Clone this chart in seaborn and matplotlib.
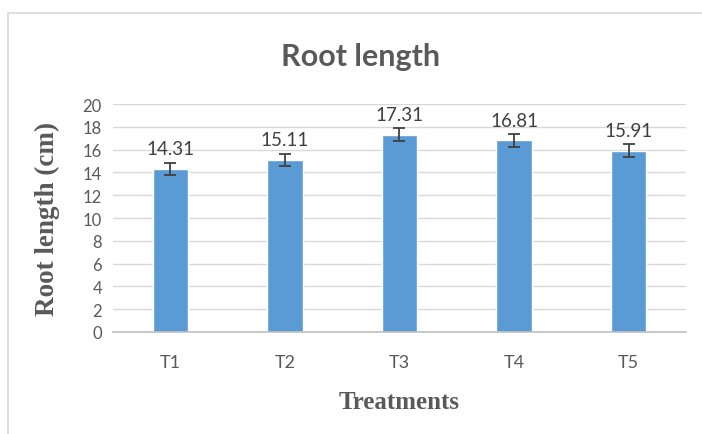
import matplotlib
matplotlib.use("Agg")
import matplotlib.pyplot as plt
import pandas as pd
import seaborn as sns
from matplotlib.patches import Rectangle

treatments = ["T1", "T2", "T3", "T4", "T5"]
root_length = [14.31, 15.11, 17.31, 16.81, 15.91]
errors = [0.55, 0.55, 0.55, 0.55, 0.55]

df = pd.DataFrame({"treatment": treatments, "root_length": root_length})

sns.set_style("white")
plt.rcParams["font.family"] = ["Lato", "DejaVu Sans"]

grey = "#595959"
fig = plt.figure(figsize=(7.02, 4.35), dpi=100)
fig.patches.append(Rectangle((8 / 702, -0.1), 1.1, 1 - 14 / 435 + 0.1,
                             transform=fig.transFigure, fill=False,
                             edgecolor="#D9D9D9", linewidth=1.2))
ax = fig.add_axes([0.161, 0.2345, 0.816, 0.524])

sns.barplot(data=df, x="treatment", y="root_length", color="#5B9BD5",
            saturation=1, width=0.31, errorbar=None, ax=ax)
ax.errorbar(range(len(treatments)), root_length, yerr=errors, fmt="none",
            ecolor="#404040", elinewidth=1.3, capsize=4, capthick=1.3)

for i, v in enumerate(root_length):
    ax.annotate(f"{v:.2f}", (i, v + errors[i]), xytext=(0, 4),
                textcoords="offset points", ha="center", va="bottom",
                fontsize=13.5, color="#404040")

ax.set_xlim(-0.5, len(treatments) - 0.5)
ax.set_ylim(0, 20)
ax.set_yticks(range(0, 21, 2))
ax.grid(axis="y", color="#D9D9D9", linewidth=1)
ax.set_axisbelow(True)
for s in ["top", "right", "left"]:
    ax.spines[s].set_visible(False)
ax.spines["bottom"].set_color("#BFBFBF")
ax.spines["bottom"].set_linewidth(1.2)
ax.tick_params(axis="both", length=0, labelsize=12, colors=grey)
ax.tick_params(axis="y", pad=8)
ax.tick_params(axis="x", pad=16, labelsize=13)

ax.set_xlabel("Treatments", fontsize=18, fontweight="bold", color=grey,
              family="Liberation Serif", labelpad=14)
ax.set_ylabel("Root length (cm)", fontsize=19.5, fontweight="bold", color=grey,
              family="Liberation Serif", labelpad=16)
fig.text(0.513, 0.868, "Root length", ha="center", va="center", fontsize=22,
         fontweight="bold", color=grey)

fig.savefig("out.png", dpi=100)
